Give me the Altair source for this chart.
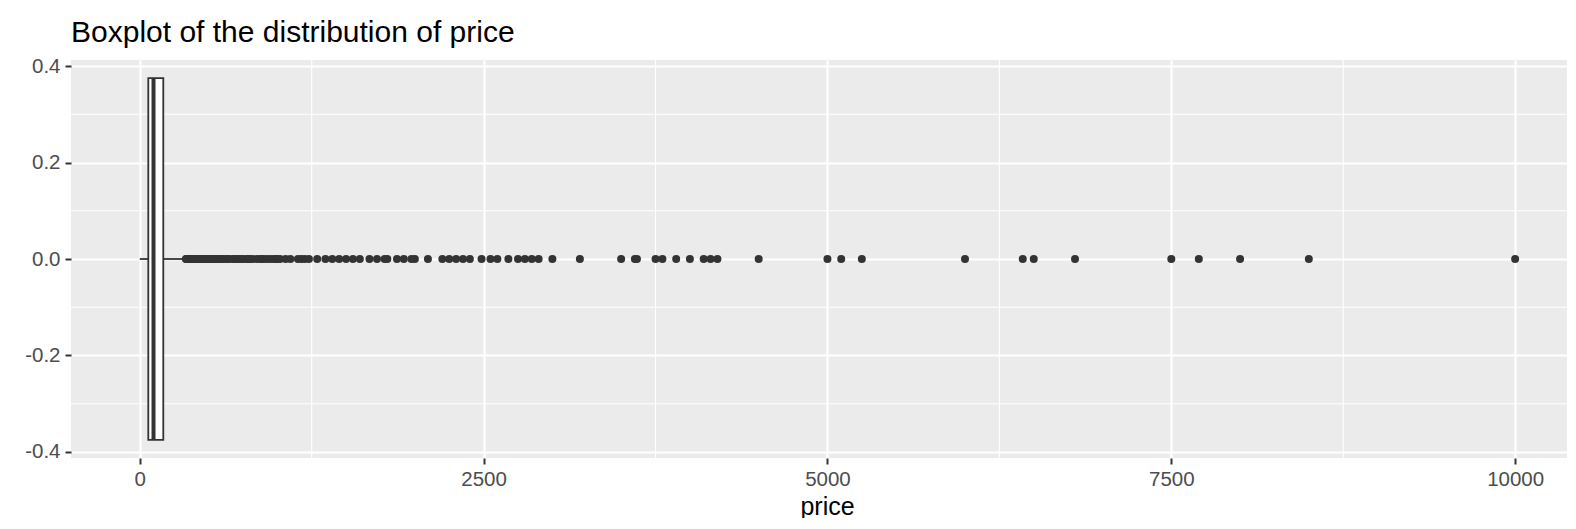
import altair as alt
import pandas as pd

# ---- data ----
box_lower = [0]
box_q1 = [62]
box_median = [100]
box_q3 = [171]
box_upper = [325]
box_half_width = 0.375

outliers = [335, 340, 350, 360, 375, 380, 395, 400, 420, 425, 440, 450, 465, 475, 490,
            500, 520, 525, 545, 550, 575, 580, 599, 600, 625, 640, 650, 675, 690, 700,
            720, 740, 750, 775, 790, 800, 820, 850, 875, 890, 900, 925, 950, 975, 990,
            1000, 1020, 1060, 1095, 1150, 1175, 1200, 1230, 1290, 1350, 1400, 1450,
            1500, 1550, 1600, 1670, 1725, 1780, 1800, 1870, 1920, 1975, 2000, 2095,
            2200, 2250, 2300, 2350, 2400, 2485, 2550, 2600, 2680, 2750, 2800, 2850,
            2900, 3000, 3200, 3500, 3600, 3615, 3750, 3800, 3900, 4000, 4100, 4150,
            4200, 4500, 5000, 5100, 5250, 6000, 6420, 6500, 6800, 7500, 7700, 8000,
            8500, 10000]

x_ticks = [0, 2500, 5000, 7500, 10000]
x_minor = [1250, 3750, 6250, 8750]
y_ticks = [-0.4, -0.2, 0.0, 0.2, 0.4]
y_minor = [-0.3, -0.1, 0.1, 0.3]

DARK = "#333333"
FONT = "Liberation Sans"

xs = alt.Scale(domain=[-500, 10377], nice=False, zero=False)
ys = alt.Scale(domain=[-0.4125, 0.4125], nice=False, zero=False)

xaxis = alt.Axis(values=x_ticks, format="d", title="price", titleFontSize=25,
                 titleFontWeight="normal", titleColor="black", titleFont=FONT,
                 titleBaseline="alphabetic", titleY=56, titleX=756, titleAnchor="start",
                 titleAlign="center", labelPadding=5)
yaxis = alt.Axis(values=y_ticks, title=None, labelPadding=5,
                 labelExpr="replace(format(datum.value, '.1f'), '\u2212', '-')")

X = lambda f: alt.X(f"{f}:Q", scale=xs, axis=xaxis, title="price")
Y = lambda f: alt.Y(f"{f}:Q", scale=ys, axis=yaxis)

stats = pd.DataFrame({"lower": box_lower, "q1": box_q1, "med": box_median,
                      "q3": box_q3, "upper": box_upper,
                      "ylo": [-box_half_width], "yhi": [box_half_width], "yc": [0.0]})

minor_x = alt.Chart(pd.DataFrame({"price": x_minor})).mark_rule(
    color="white", strokeWidth=1.1).encode(x=X("price"))
minor_y = alt.Chart(pd.DataFrame({"y": y_minor})).mark_rule(
    color="white", strokeWidth=1.1).encode(y=Y("y"))

base = alt.Chart(stats)
wl = base.mark_rule(color=DARK, strokeWidth=1.8).encode(
    x=X("lower"), x2=alt.X2("q1:Q"), y=Y("yc"))
wu = base.mark_rule(color=DARK, strokeWidth=1.8).encode(
    x=X("q3"), x2=alt.X2("upper:Q"), y=Y("yc"))
box = base.mark_rect(fill="white", stroke=DARK, strokeWidth=1.8).encode(
    x=X("q1"), x2=alt.X2("q3:Q"), y=Y("ylo"), y2=alt.Y2("yhi:Q"))
med = base.mark_rule(color=DARK, strokeWidth=4).encode(
    x=X("med"), y=Y("ylo"), y2=alt.Y2("yhi:Q"))

pts = alt.Chart(pd.DataFrame({"price": outliers, "y": [0.0] * len(outliers)})).mark_circle(
    size=64, color=DARK, opacity=1).encode(x=X("price"), y=Y("y"))

chart = alt.layer(minor_x, minor_y, wl, wu, box, med, pts).properties(
    width=1496, height=398,
    title=alt.TitleParams("Boxplot of the distribution of price", anchor="start",
                          fontSize=30, font=FONT, fontWeight="normal", color="black",
                          baseline="alphabetic", offset=19, dy=35, frame="group"),
    autosize=alt.AutoSizeParams(type="none"),
    padding={"left": 63, "top": 52, "right": 0, "bottom": 60},
).configure_view(fill="#ebebeb", stroke=None).configure_axis(
    grid=True, gridColor="white", gridWidth=2.2, domain=False,
    tickColor=DARK, tickSize=6, tickWidth=2,
    labelColor="#4d4d4d", labelFont=FONT, labelFontSize=20.5,
)

chart.save("out.html", embed_options={"renderer": "svg", "actions": False})
